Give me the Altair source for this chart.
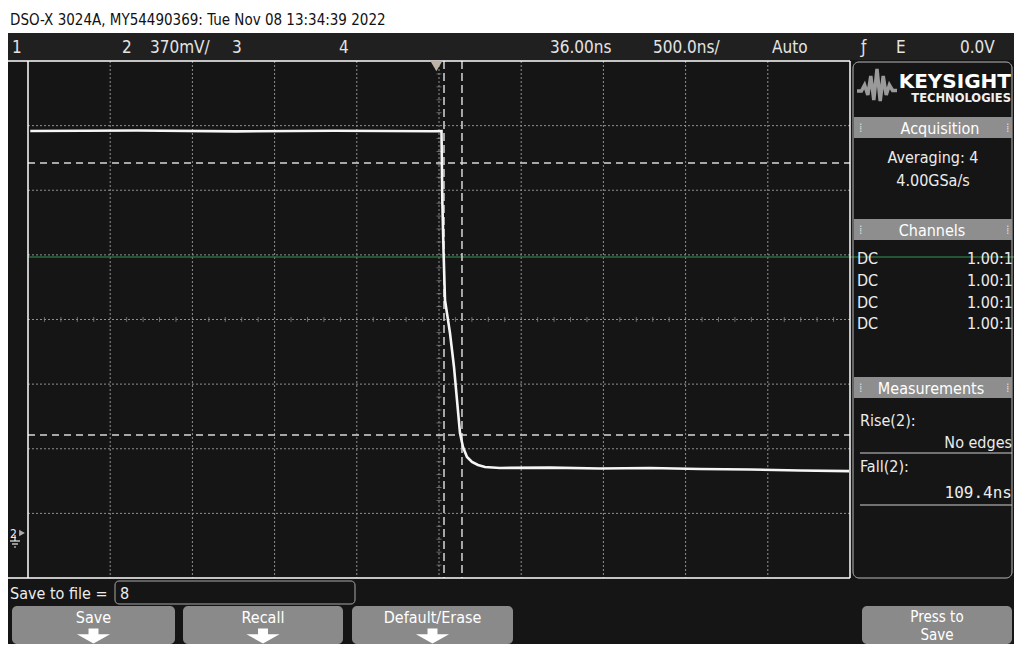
import altair as alt
import pandas as pd

# ---------------- values ----------------
title_text = "DSO-X 3024A, MY54490369: Tue Nov 08 13:34:39 2022"
delay_ns = 36.0          # horizontal delay = time at screen centre
ns_per_div = 500.0       # time base
v_per_div = 0.370        # channel 2 vertical scale (V/div)
ground_div = 0.665       # channel 2 ground marker, divisions above bottom edge
n_xdiv, n_ydiv = 10, 8

# channel 2 trace: falling edge (time in ns, level in V)
time_ns = [-2450, -1800, -1200, -600, 0, 51.2, 56.1, 63.4, 72.5, 102.9,
           127.2, 145.5, 163.7, 182.0, 206.3, 236.7, 273.2, 315.8, 407, 711,
           1015, 1319, 1624, 1928, 2232, 2530]
volts = [2.313, 2.316, 2.311, 2.315, 2.312, 2.313, 1.918, 1.632, 1.345,
         1.156, 0.962, 0.773, 0.584, 0.504, 0.447, 0.418, 0.401, 0.389, 0.384,
         0.386, 0.381, 0.384, 0.378, 0.375, 0.369, 0.366]

cursor_t = [66.4, 175.8]     # fall-time markers, 109.4 ns apart
cursor_v = [2.130, 0.573]    # 90 % and 10 % reference levels
ch1_level = [1.592]          # green channel-1 trace
trigger_t = [20.0]           # trigger point marker

top_labels = ["1", "2", "370mV/", "3", "4", "36.00ns", "500.0ns/", "Auto", "ƒ", "E", "0.0V"]
panel_headers = ["Acquisition", "Channels", "Measurements"]
acq_lines = ["Averaging: 4", "4.00GSa/s"]
chan_coupling = ["DC", "DC", "DC", "DC"]
chan_probe = ["1.00:1", "1.00:1", "1.00:1", "1.00:1"]
meas_names = ["Rise(2):", "Fall(2):"]
meas_values = ["No edges", "109.4ns"]
softkeys = ["Save", "Recall", "Default/Erase"]

# ---------------- scales ----------------
x0 = delay_ns - ns_per_div * n_xdiv / 2
x1 = delay_ns + ns_per_div * n_xdiv / 2
y0 = -ground_div * v_per_div
y1 = (n_ydiv - ground_div) * v_per_div
xscale = alt.Scale(domain=[x0, x1], nice=False, zero=False)
yscale = alt.Scale(domain=[y0, y1], nice=False, zero=False)

grid_t = [x0 + ns_per_div * k for k in range(1, n_xdiv)]
grid_v = [y0 + v_per_div * k for k in range(1, n_ydiv)]
centre_t = delay_ns
centre_v = y0 + v_per_div * n_ydiv / 2
minor_t = [x0 + ns_per_div / 5 * k for k in range(1, n_xdiv * 5) if k % 5]
minor_v = [y0 + v_per_div / 5 * k for k in range(1, n_ydiv * 5) if k % 5]

# ---------------- layout (page pixels) ----------------
PX0, PY0 = 28, 61          # plot origin on page
PW, PH = 822, 517
CANVAS_W, CANVAS_H = 1006, 636
PAD = {"left": PX0 - 8, "top": PY0 - 8,
       "right": CANVAS_W - (PX0 - 8) - PW, "bottom": CANVAS_H - (PY0 - 8) - PH}
RIGHT = 8 + CANVAS_W       # right edge of canvas on page (1014)
BOTTOM = 8 + CANVAS_H      # bottom edge of canvas on page (644)

COND = "DejaVu Sans Condensed, Liberation Sans Narrow, Roboto Condensed, DejaVu Sans, sans-serif"
MONO = "DejaVu Sans Mono, Liberation Mono, monospace"
BOLD = "DejaVu Sans, Liberation Sans, sans-serif"
FG = "#ececec"

one = pd.DataFrame({"k": [0]})


def X(px):
    return alt.value(px - PX0)


def Y(py):
    return alt.value(py - PY0)


def txt(px, py, s, size=15, color=FG, align="left", font=COND, weight="normal"):
    return alt.Chart(one).mark_text(
        text=s, align=align, baseline="alphabetic", fontSize=size, font=font,
        color=color, fontWeight=weight
    ).encode(x=X(px), y=Y(py))


def box(xa, ya, xb, yb, fill="#8c8c8c", radius=0, stroke=None, sw=1, fo=1.0):
    kw = dict(fill=fill, cornerRadius=radius, fillOpacity=fo)
    if stroke:
        kw.update(stroke=stroke, strokeWidth=sw)
    return alt.Chart(one).mark_rect(**kw).encode(x=X(xa), x2=X(xb), y=Y(ya), y2=Y(yb))


def hline(xa, xb, py, color="#ffffff", w=1.5, dash=None, op=1.0):
    kw = dict(color=color, strokeWidth=w, opacity=op)
    if dash:
        kw["strokeDash"] = dash
    return alt.Chart(one).mark_rule(**kw).encode(x=X(xa), x2=X(xb), y=Y(py))


def vline(px, ya, yb, color="#ffffff", w=1.5):
    return alt.Chart(one).mark_rule(color=color, strokeWidth=w).encode(x=X(px), y=Y(ya), y2=Y(yb))


layers = []
# screen background and status bar
layers.append(box(8, 33, RIGHT, BOTTOM, fill="#151515"))
layers.append(box(8, 33, RIGHT, 60, fill="#202020"))

# grid
layers.append(alt.Chart(pd.DataFrame({"t": grid_t})).mark_rule(
    color="#8f8f8f", strokeWidth=1, strokeDash=[2, 2]).encode(
    x=alt.X("t:Q", scale=xscale, axis=None), y=alt.value(0), y2=alt.value(PH)))
layers.append(alt.Chart(pd.DataFrame({"v": grid_v})).mark_rule(
    color="#8f8f8f", strokeWidth=1, strokeDash=[2, 2]).encode(
    y=alt.Y("v:Q", scale=yscale, axis=None), x=alt.value(0), x2=alt.value(PW)))
layers.append(alt.Chart(pd.DataFrame({"v": minor_v, "t": [centre_t] * len(minor_v)})).mark_tick(
    orient="horizontal", color="#8a8a8a", size=5, thickness=1).encode(
    x=alt.X("t:Q", scale=xscale, axis=None), y=alt.Y("v:Q", scale=yscale, axis=None)))
layers.append(alt.Chart(pd.DataFrame({"t": minor_t, "v": [centre_v] * len(minor_t)})).mark_tick(
    orient="vertical", color="#8a8a8a", size=5, thickness=1).encode(
    x=alt.X("t:Q", scale=xscale, axis=None), y=alt.Y("v:Q", scale=yscale, axis=None)))

# green channel-1 trace (continues through the side panel)
layers.append(alt.Chart(pd.DataFrame({"v": ch1_level})).mark_rule(
    color="#2f7d45", strokeWidth=1.5, opacity=0.85).encode(
    y=alt.Y("v:Q", scale=yscale, axis=None), x=alt.value(0), x2=alt.value(RIGHT - PX0)))

# cursors
layers.append(alt.Chart(pd.DataFrame({"v": cursor_v})).mark_rule(
    color="#d6d6d6", strokeWidth=1.5, strokeDash=[7, 5]).encode(
    y=alt.Y("v:Q", scale=yscale, axis=None), x=alt.value(0), x2=alt.value(PW)))
layers.append(alt.Chart(pd.DataFrame({"t": cursor_t})).mark_rule(
    color="#d6d6d6", strokeWidth=1.5, strokeDash=[8, 4]).encode(
    x=alt.X("t:Q", scale=xscale, axis=None), y=alt.value(0), y2=alt.value(PH)))

# waveform
wave = pd.DataFrame({"t": time_ns, "v": volts, "i": range(len(time_ns))})
layers.append(alt.Chart(wave).mark_line(color="#f6f6f6", strokeWidth=2.6).encode(
    x=alt.X("t:Q", scale=xscale, axis=None), y=alt.Y("v:Q", scale=yscale, axis=None),
    order="i:Q"))

# graticule border
layers.append(hline(8, PX0 + PW, PY0))
layers.append(hline(8, PX0 + PW, PY0 + PH))
layers.append(vline(PX0, PY0, PY0 + PH))
layers.append(vline(PX0 + PW, PY0, PY0 + PH))

# trigger marker
layers.append(alt.Chart(pd.DataFrame({"t": trigger_t})).mark_point(
    shape="triangle-down", filled=True, size=150, color="#bdb2a6", opacity=1).encode(
    x=alt.X("t:Q", scale=xscale, axis=None), y=alt.value(5)))

# channel 2 ground marker
layers.append(txt(10, 538, "2", size=12))
layers.append(alt.Chart(one).mark_point(shape="triangle-right", filled=True, size=45, color=FG).encode(
    x=X(22), y=Y(533)))
layers.append(vline(15, 535, 541, color=FG, w=1.2))
layers.append(hline(10, 20, 541, color=FG, w=1.2))
layers.append(hline(12, 18, 544, color=FG, w=1.2))
layers.append(hline(14, 16, 547, color=FG, w=1.2))

# title and status bar
layers.append(txt(10, 25, title_text, size=15, color="#111111"))
top_x = [12, 122, 150, 232, 339, 550, 653, 772, 861, 896, 960]
for lab, px in zip(top_labels, top_x):
    layers.append(txt(px, 53, lab, size=17, color="#e4e4e4"))

# side panel
PR = RIGHT - 2
layers.append(box(853, 62, PR, 578, fill="#151515", radius=6, stroke="#b8b8b8", sw=1, fo=0))
logo_wave = ("M-1,0.15 L-0.78,0.15 L-0.62,-0.15 L-0.46,0.35 L-0.31,-0.6 L-0.16,0.6 "
             "L0,-0.95 L0.16,0.65 L0.31,-0.6 L0.46,0.35 L0.62,-0.15 L0.78,0.12 L1,0.12")
layers.append(alt.Chart(one).mark_point(shape=logo_wave, filled=False, strokeWidth=3.5,
                                        color="#9a9a9a", opacity=1, size=1600).encode(x=X(877), y=Y(88)))
layers.append(txt(PR - 1, 88, "KEYSIGHT", size=20, color="#ffffff", align="right", font=BOLD, weight="bold"))
layers.append(txt(PR - 1, 102, "TECHNOLOGIES", size=11.5, color="#f0f0f0", align="right", font=BOLD, weight="bold"))
header_y = [117, 219, 377]
header_cx = [940, 932, 931]
for name, hy, cx in zip(panel_headers, header_y, header_cx):
    layers.append(box(854, hy, PR, hy + 21, fill="#8e8e8e"))
    layers.append(txt(cx, hy + 17, name, size=16, color="#ffffff", align="center"))
    layers.append(txt(859, hy + 15, "⁞", size=12, color="#dddddd"))
    layers.append(txt(PR - 6, hy + 15, "⁞", size=12, color="#dddddd"))
for s, py in zip(acq_lines, [163, 186]):
    layers.append(txt(933, py, s, size=16, align="center"))
for c, p, py in zip(chan_coupling, chan_probe, [264, 286, 308, 329]):
    layers.append(txt(857, py, c, size=16))
    layers.append(txt(RIGHT - 1, py, p, size=16, align="right"))
layers.append(txt(860, 426, meas_names[0], size=16))
layers.append(txt(PR, 448, meas_values[0], size=16, align="right"))
layers.append(hline(860, PR, 453, color="#cfcfcf", w=1.2))
layers.append(txt(860, 472, meas_names[1], size=16))
layers.append(txt(PR, 498, meas_values[1], size=16, align="right", font=MONO))
layers.append(hline(860, PR, 505, color="#cfcfcf", w=1.2))

# save-to-file row and soft keys
layers.append(txt(10, 599, "Save to file =", size=16))
layers.append(box(115, 581, 355, 604, fill="#151515", radius=4, stroke="#a8a8a8", sw=1, fo=0))
layers.append(txt(120, 599, "8", size=16))
arrow = "M-0.3,-0.45 L0.3,-0.45 L0.3,-0.1 L1,-0.1 L0,0.45 L-1,-0.1 L-0.3,-0.1 Z"
for name, (xa, xb) in zip(softkeys, [(12, 175), (183, 343), (352, 513)]):
    cx = (xa + xb) / 2
    layers.append(box(xa, 606, xb, BOTTOM, fill="#8a8a8a", radius=5))
    layers.append(txt(cx, 623, name, size=16, color="#ffffff", align="center"))
    layers.append(alt.Chart(one).mark_point(shape=arrow, filled=True, size=1100, color="#ffffff", opacity=1).encode(
        x=X(cx), y=Y(636)))
layers.append(box(862, 606, PR, BOTTOM, fill="#8a8a8a", radius=5))
layers.append(txt(937, 622, "Press to", size=15, color="#ffffff", align="center"))
layers.append(txt(937, 640, "Save", size=15, color="#ffffff", align="center"))

chart = alt.layer(*layers).properties(
    width=PW, height=PH, padding=PAD,
    autosize=alt.AutoSizeParams(type="none"), background="white"
).configure_view(strokeWidth=0)

chart.save("out.html", embed_options={"renderer": "svg", "actions": False})
